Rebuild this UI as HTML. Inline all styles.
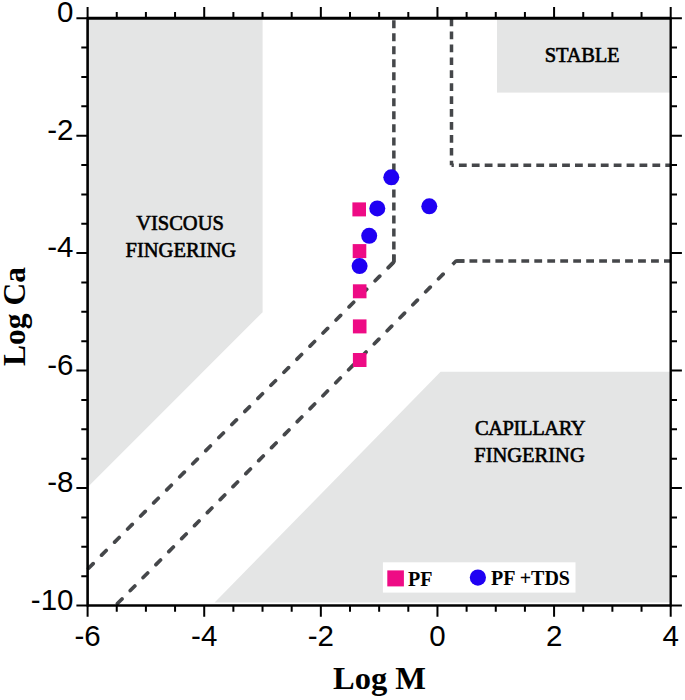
<!DOCTYPE html>
<html><head><meta charset="utf-8"><style>
html,body{margin:0;padding:0;background:#fff;width:685px;height:700px;overflow:hidden}
svg{display:block}
</style></head><body>
<svg width="685" height="700" viewBox="0 0 685 700">
<polygon fill="#e4e5e5" points="87.6,18.2 262.6,18.2 262.6,312.2 87.6,487.2"/>
<rect fill="#e4e5e5" x="497" y="18.2" width="173.7" height="74.4"/>
<polygon fill="#e4e5e5" points="440.6,371.8 670.7,371.8 670.7,602.6 214.6,602.6"/>
<path d="M393.85,18.2 V262" stroke="#45474a" stroke-width="3.5" fill="none" stroke-dasharray="8 5.02" stroke-dashoffset="-2"/>
<path d="M393.85,262 L87.6,569.2" stroke="#45474a" stroke-width="3.7" fill="none" stroke-linecap="round" stroke-dasharray="6.5 11.95" stroke-dashoffset="-1.55"/>
<path d="M393.85,254.6 V262 L387.7,268.2" stroke="#45474a" stroke-width="3.5" fill="none" stroke-linejoin="round"/>
<path d="M456,261.1 H670.7" stroke="#45474a" stroke-width="3.5" fill="none" stroke-dasharray="7.8 5.17" stroke-dashoffset="-0.5"/>
<path d="M450.37,266.79 L115.5,605.5" stroke="#45474a" stroke-width="3.7" fill="none" stroke-linecap="round" stroke-dasharray="6.5 11.77" stroke-dashoffset="7.95"/>
<path d="M464.4,261.1 H456 L452.6,264.5" stroke="#45474a" stroke-width="3.5" fill="none" stroke-linejoin="round"/>
<path d="M451.5,18.2 V165.2" stroke="#45474a" stroke-width="3.5" fill="none" stroke-dasharray="7.7 5.23" stroke-dashoffset="-0.4"/>
<path d="M451.5,165.2 H670.7" stroke="#45474a" stroke-width="3.5" fill="none" stroke-dasharray="7.8 5.1" stroke-dashoffset="5.5"/>
<path d="M87.60,18.2 V7.0 M87.60,605.5 V616.7 M116.75,18.2 V11.9 M116.75,605.5 V611.8 M145.91,18.2 V11.9 M145.91,605.5 V611.8 M175.06,18.2 V11.9 M175.06,605.5 V611.8 M204.22,18.2 V7.0 M204.22,605.5 V616.7 M233.38,18.2 V11.9 M233.38,605.5 V611.8 M262.53,18.2 V11.9 M262.53,605.5 V611.8 M291.69,18.2 V11.9 M291.69,605.5 V611.8 M320.84,18.2 V7.0 M320.84,605.5 V616.7 M350.00,18.2 V11.9 M350.00,605.5 V611.8 M379.15,18.2 V11.9 M379.15,605.5 V611.8 M408.31,18.2 V11.9 M408.31,605.5 V611.8 M437.46,18.2 V7.0 M437.46,605.5 V616.7 M466.62,18.2 V11.9 M466.62,605.5 V611.8 M495.77,18.2 V11.9 M495.77,605.5 V611.8 M524.92,18.2 V11.9 M524.92,605.5 V611.8 M554.08,18.2 V7.0 M554.08,605.5 V616.7 M583.24,18.2 V11.9 M583.24,605.5 V611.8 M612.39,18.2 V11.9 M612.39,605.5 V611.8 M641.54,18.2 V11.9 M641.54,605.5 V611.8 M670.70,18.2 V7.0 M670.70,605.5 V616.7 M87.6,18.20 H76.4 M670.7,18.20 H681.9 M87.6,47.56 H81.3 M670.7,47.56 H677.0 M87.6,76.93 H81.3 M670.7,76.93 H677.0 M87.6,106.30 H81.3 M670.7,106.30 H677.0 M87.6,135.66 H76.4 M670.7,135.66 H681.9 M87.6,165.02 H81.3 M670.7,165.02 H677.0 M87.6,194.39 H81.3 M670.7,194.39 H677.0 M87.6,223.75 H81.3 M670.7,223.75 H677.0 M87.6,253.12 H76.4 M670.7,253.12 H681.9 M87.6,282.48 H81.3 M670.7,282.48 H677.0 M87.6,311.85 H81.3 M670.7,311.85 H677.0 M87.6,341.21 H81.3 M670.7,341.21 H677.0 M87.6,370.58 H76.4 M670.7,370.58 H681.9 M87.6,399.94 H81.3 M670.7,399.94 H677.0 M87.6,429.31 H81.3 M670.7,429.31 H677.0 M87.6,458.68 H81.3 M670.7,458.68 H677.0 M87.6,488.04 H76.4 M670.7,488.04 H681.9 M87.6,517.40 H81.3 M670.7,517.40 H677.0 M87.6,546.77 H81.3 M670.7,546.77 H677.0 M87.6,576.13 H81.3 M670.7,576.13 H677.0 M87.6,605.50 H76.4 M670.7,605.50 H681.9" stroke="#000" stroke-width="2" fill="none"/>
<path d="M87.6,18.2 H670.7" stroke="#000" stroke-width="3"/>
<path d="M87.6,17.2 V606.5" stroke="#000" stroke-width="2.6"/>
<path d="M670.7,17.2 V606.5" stroke="#000" stroke-width="2.4"/>
<path d="M87.6,605.5 H670.7" stroke="#000" stroke-width="2.4"/>
<rect fill="#ee0b85" x="352.4" y="202.4" width="13.6" height="14"/>
<rect fill="#ee0b85" x="352.7" y="244.1" width="13.6" height="14"/>
<rect fill="#ee0b85" x="352.9" y="284.3" width="13.6" height="14"/>
<rect fill="#ee0b85" x="352.9" y="319.4" width="13.6" height="14"/>
<rect fill="#ee0b85" x="352.9" y="353.0" width="13.6" height="14"/>
<circle fill="#1f00f3" cx="391.3" cy="177.3" r="8"/>
<circle fill="#1f00f3" cx="377.3" cy="208.4" r="8"/>
<circle fill="#1f00f3" cx="429.3" cy="206.3" r="8"/>
<circle fill="#1f00f3" cx="369.2" cy="235.8" r="8"/>
<circle fill="#1f00f3" cx="359.6" cy="266.1" r="8"/>
<rect fill="#fff" x="382.9" y="562.3" width="192.6" height="30.3"/>
<rect fill="#ee0b85" x="387.3" y="570.4" width="16.6" height="16"/>
<circle fill="#1f00f3" cx="477.9" cy="577.6" r="8.1"/>
<text x="408" y="586" font-family="Liberation Serif" font-weight="bold" font-size="20">PF</text>
<text x="491" y="584.5" font-family="Liberation Serif" font-weight="bold" font-size="20">PF +TDS</text>
<text x="180" y="230.2" font-family="Liberation Serif" font-size="20.5" stroke="#000" stroke-width="0.6" text-anchor="middle">VISCOUS</text>
<text x="180.8" y="257.2" font-family="Liberation Serif" font-size="20.5" stroke="#000" stroke-width="0.6" text-anchor="middle">FINGERING</text>
<text x="530.1" y="435.1" font-family="Liberation Serif" font-size="20.5" stroke="#000" stroke-width="0.6" text-anchor="middle" letter-spacing="-0.4">CAPILLARY</text>
<text x="529.5" y="461.7" font-family="Liberation Serif" font-size="20.5" stroke="#000" stroke-width="0.6" text-anchor="middle">FINGERING</text>
<text x="582.1" y="61.5" font-family="Liberation Serif" font-size="20.5" stroke="#000" stroke-width="0.6" text-anchor="middle" letter-spacing="-0.2">STABLE</text>
<text x="73.5" y="22.2" font-family="Liberation Sans" font-size="29.5" text-anchor="end">0</text>
<text x="73.5" y="139.7" font-family="Liberation Sans" font-size="29.5" text-anchor="end">-2</text>
<text x="73.5" y="257.1" font-family="Liberation Sans" font-size="29.5" text-anchor="end">-4</text>
<text x="73.5" y="374.6" font-family="Liberation Sans" font-size="29.5" text-anchor="end">-6</text>
<text x="73.5" y="492.0" font-family="Liberation Sans" font-size="29.5" text-anchor="end">-8</text>
<text x="73.5" y="609.5" font-family="Liberation Sans" font-size="29.5" text-anchor="end">-10</text>
<text x="87.6" y="645.7" font-family="Liberation Sans" font-size="29.5" text-anchor="middle">-6</text>
<text x="204.2" y="645.7" font-family="Liberation Sans" font-size="29.5" text-anchor="middle">-4</text>
<text x="320.8" y="645.7" font-family="Liberation Sans" font-size="29.5" text-anchor="middle">-2</text>
<text x="437.5" y="645.7" font-family="Liberation Sans" font-size="29.5" text-anchor="middle">0</text>
<text x="554.1" y="645.7" font-family="Liberation Sans" font-size="29.5" text-anchor="middle">2</text>
<text x="670.7" y="645.7" font-family="Liberation Sans" font-size="29.5" text-anchor="middle">4</text>
<text x="379.5" y="688.6" font-family="Liberation Serif" font-weight="bold" font-size="32.5" text-anchor="middle">Log M</text>
<text transform="translate(24.6,316.5) rotate(-90)" x="0" y="0" font-family="Liberation Serif" font-weight="bold" font-size="31.5" text-anchor="middle">Log Ca</text>
</svg>
</body></html>
